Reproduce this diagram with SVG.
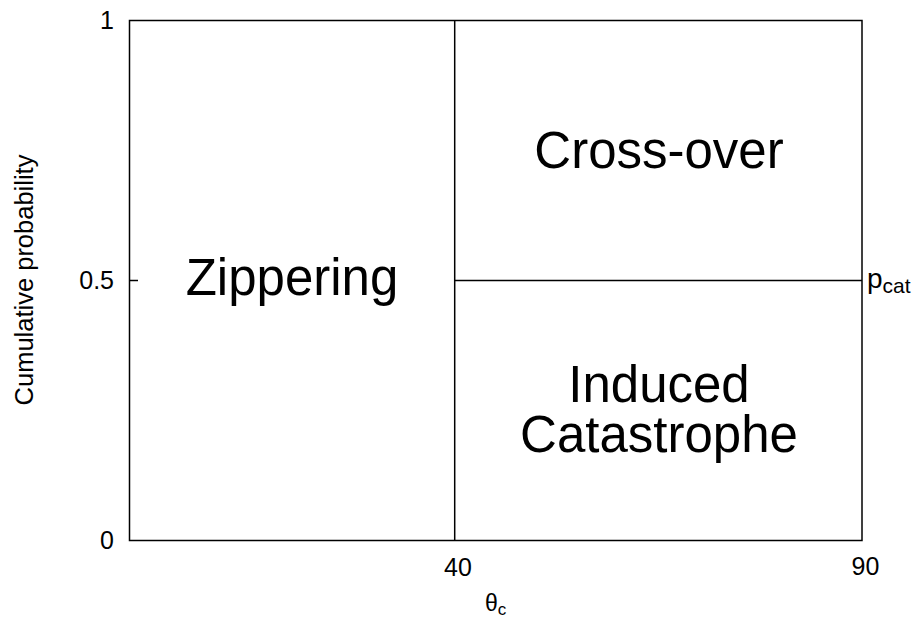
<svg xmlns="http://www.w3.org/2000/svg" width="914" height="619" viewBox="0 0 914 619">
<style>
text{font-family:"Liberation Sans",Arial,sans-serif;fill:#000}
.tick{font-size:25px}
.big{font-size:51px;text-anchor:middle}
.ln{stroke:#000;stroke-width:1.5;fill:none}
</style>
<rect width="914" height="619" fill="#fff"/>
<g id="frame">
<rect class="ln" x="129.5" y="20.5" width="732.5" height="520"/>
<line class="ln" x1="129.5" y1="280.5" x2="138" y2="280.5"/>
</g>
<g id="connectors">
<line class="ln" x1="454.7" y1="20.5" x2="454.7" y2="540.5"/>
<line class="ln" x1="454.7" y1="280.5" x2="862" y2="280.5"/>
</g>
<g id="ticks" class="tick">
<text x="114" y="29" text-anchor="end">1</text>
<text x="114" y="289" text-anchor="end">0.5</text>
<text x="114" y="549" text-anchor="end">0</text>
<text x="458" y="576" text-anchor="middle">40</text>
<text x="865.5" y="575" text-anchor="middle">90</text>
</g>
<g id="axis-labels">
<text transform="translate(33,280) rotate(-90)" font-size="25.5" text-anchor="middle">Cumulative probability</text>
<text x="485" y="611" font-size="23">θ<tspan font-size="17" dy="4">c</tspan></text>
<text x="867" y="288" font-size="28">p<tspan font-size="21" dy="5">cat</tspan></text>
</g>
<g id="zippering"><text class="big" x="292" y="295">Zippering</text></g>
<g id="crossover"><text class="big" x="659" y="168">Cross-over</text></g>
<g id="induced"><text class="big" x="659" y="402">Induced<tspan x="659" dy="50">Catastrophe</tspan></text></g>
</svg>
